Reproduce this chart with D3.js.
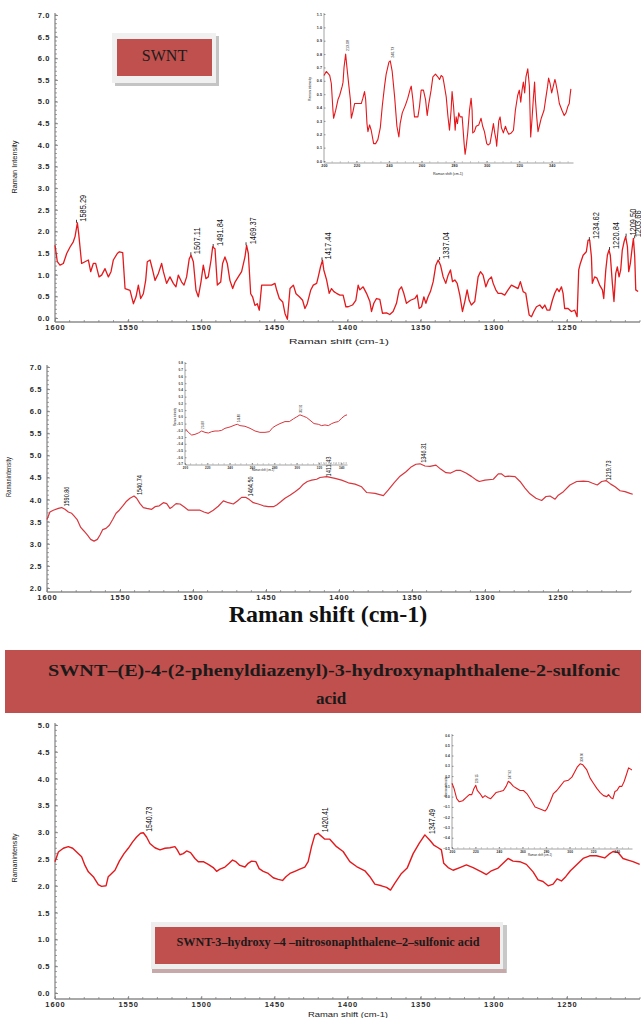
<!DOCTYPE html>
<html><head><meta charset="utf-8">
<script src="https://cdn.jsdelivr.net/npm/d3@7"></script>
<style>body{margin:0;background:#fff}svg{display:block}</style>
</head><body><svg id="c" width="641" height="1018"></svg>
<script>
// ---------------- DATA ----------------
const xTicksMain = [1600,1550,1500,1450,1400,1350,1300,1250];
const yTicksP1 = d3.range(0, 7.01, 0.5);
const yTicksP2 = d3.range(2, 7.01, 0.5);
const yTicksP3 = d3.range(0, 5.01, 0.5);
const insetXTicks = [200,220,240,260,280,300,320,340];

const swntMain = [[1600,1.68],[1598.4,1.30],[1596.6,1.22],[1594.3,1.26],[1592.0,1.49],[1589.7,1.64],[1587.5,1.76],[1586.3,1.88],[1584.7,2.20],[1583.8,1.95],[1581.8,1.26],[1579.5,1.30],[1577.2,1.34],[1575.6,1.07],[1573.8,1.26],[1572.2,1.26],[1569.9,0.95],[1568.1,0.99],[1565.8,1.14],[1563.5,0.95],[1561.7,1.07],[1560.1,1.34],[1557.4,1.49],[1556.0,1.53],[1553.7,1.51],[1552.1,0.68],[1548.7,0.64],[1546.4,0.33],[1544.6,0.49],[1543.0,0.76],[1541.4,0.45],[1539.6,0.56],[1538.0,0.87],[1536.9,1.30],[1535.0,1.34],[1533.2,1.10],[1531.6,0.87],[1529.3,1.03],[1527.1,1.26],[1525.9,1.07],[1523.7,0.80],[1521.4,0.95],[1519.1,0.80],[1517.3,0.72],[1515.7,0.99],[1513.4,0.83],[1511.8,0.76],[1510.0,0.95],[1508.2,1.37],[1507.0,1.45],[1505.4,1.30],[1503.6,0.64],[1502.0,0.49],[1500.2,0.83],[1498.6,1.22],[1496.8,0.91],[1495.2,0.95],[1493.3,1.34],[1492.2,1.64],[1490.6,1.60],[1489.0,0.76],[1486.7,0.83],[1485.4,1.26],[1483.8,1.41],[1482.2,1.26],[1480.4,0.87],[1478.5,0.68],[1476.9,0.83],[1474.7,0.95],[1472.4,1.07],[1470.1,1.41],[1469.0,1.68],[1467.8,1.49],[1466.2,0.56],[1464.9,0.49],[1463.3,0.29],[1461.7,0.33],[1460.3,0.18],[1458.7,0.76],[1455.3,0.76],[1451.9,0.76],[1449.6,0.80],[1448.4,0.64],[1446.6,0.45],[1444.3,0.37],[1442.7,0.10],[1441.1,-0.03],[1439.3,0.68],[1437.0,0.76],[1435.2,0.56],[1432.9,0.49],[1430.7,0.41],[1429.1,0.22],[1427.5,0.33],[1425.2,0.64],[1423.4,0.76],[1421.1,0.80],[1420.0,0.95],[1418.4,1.19],[1417.1,1.33],[1416.2,1.11],[1414.3,0.88],[1412.5,0.57],[1410.9,0.68],[1409.3,0.61],[1407.5,0.57],[1405.2,0.53],[1403.0,0.53],[1401.1,0.26],[1399.5,0.26],[1396.6,0.30],[1394.3,0.41],[1392.7,0.76],[1391.6,0.65],[1389.3,0.72],[1387.0,0.57],[1384.7,0.38],[1383.6,0.15],[1382.0,0.34],[1380.2,0.45],[1377.9,0.43],[1376.1,0.11],[1373.3,0.12],[1371.1,0.08],[1368.8,0.15],[1366.5,0.34],[1364.7,0.65],[1363.1,0.72],[1361.5,0.57],[1359.7,0.34],[1356.9,0.41],[1354.0,0.45],[1352.4,0.53],[1351.0,0.22],[1349.4,0.26],[1347.8,0.49],[1346.4,0.34],[1344.9,0.49],[1343.3,0.61],[1341.4,0.84],[1339.6,1.22],[1338.0,1.34],[1336.4,1.22],[1334.6,0.95],[1332.8,0.80],[1331.2,0.99],[1329.6,1.11],[1328.2,0.84],[1326.6,0.88],[1325.0,0.80],[1323.2,0.53],[1321.4,0.15],[1319.8,0.38],[1318.2,0.65],[1316.8,0.41],[1315.3,0.30],[1313.0,0.38],[1310.7,0.95],[1309.1,1.07],[1307.3,0.99],[1305.4,0.72],[1303.6,0.88],[1301.6,0.95],[1300.4,0.80],[1298.6,0.65],[1297.0,0.57],[1294.7,0.57],[1292.5,0.53],[1290.2,0.65],[1287.9,0.76],[1285.6,0.72],[1283.4,0.68],[1281.8,0.84],[1279.9,0.61],[1278.1,0.57],[1275.8,0.07],[1274.2,0.03],[1272.6,0.15],[1270.8,0.26],[1268.5,0.30],[1266.7,0.22],[1265.1,0.30],[1263.5,0.18],[1261.7,0.18],[1259.9,0.41],[1258.3,0.57],[1256.7,0.68],[1255.3,0.61],[1253.7,0.72],[1252.6,0.57],[1251.5,0.22],[1249.2,0.22],[1246.9,0.15],[1244.6,0.18],[1243.0,0.03],[1241.9,1.11],[1240.8,1.26],[1238.9,1.45],[1236.7,1.53],[1235.5,1.80],[1234.4,1.80],[1233.2,1.41],[1232.6,0.80],[1231.0,0.95],[1229.4,0.92],[1227.6,0.76],[1225.7,0.65],[1224.8,0.45],[1223.4,1.11],[1222.3,1.45],[1221.2,1.57],[1220.3,1.45],[1218.9,0.80],[1217.8,0.38],[1216.6,1.03],[1215.5,1.18],[1214.3,0.95],[1213.2,1.11],[1212.1,1.57],[1210.9,1.76],[1209.8,1.88],[1208.6,1.65],[1207.7,1.07],[1206.6,1.26],[1205.4,1.61],[1204.5,1.84],[1203.6,1.41],[1202.9,0.65],[1201.3,0.61]];
const swntPeaks = ["1585.29","1507.11","1491.84","1469.37","1417.44","1337.04","1234.62","1220.84","1209.50","1203.66"];

const swntInset = [[200.0,0.64],[201.4,0.67],[203.5,0.64],[204.5,0.58],[205.5,0.38],[205.9,0.32],[207.2,0.38],[208.6,0.46],[209.6,0.49],[211.2,0.56],[211.7,0.59],[212.3,0.70],[213.3,0.80],[214.1,0.70],[215.3,0.56],[216.2,0.46],[216.8,0.32],[217.8,0.37],[218.8,0.43],[220.9,0.43],[222.9,0.43],[223.9,0.47],[224.9,0.52],[225.6,0.46],[226.4,0.28],[227.0,0.22],[228.0,0.27],[229.0,0.23],[230.5,0.13],[231.7,0.13],[233.1,0.16],[234.6,0.25],[235.8,0.41],[237.2,0.56],[238.2,0.65],[239.9,0.74],[240.7,0.75],[241.9,0.67],[243.4,0.48],[244.8,0.26],[246.0,0.18],[246.8,0.28],[248.1,0.36],[250.1,0.42],[251.5,0.47],[253.0,0.54],[253.6,0.56],[254.6,0.46],[255.6,0.33],[257.7,0.33],[258.7,0.41],[259.7,0.53],[261.1,0.53],[262.4,0.46],[263.4,0.34],[264.4,0.43],[265.8,0.53],[266.9,0.63],[268.5,0.65],[269.9,0.63],[271.0,0.61],[272.0,0.64],[273.0,0.63],[273.6,0.59],[275.1,0.48],[276.1,0.34],[277.1,0.23],[278.1,0.38],[278.7,0.52],[279.6,0.41],[280.6,0.23],[281.2,0.33],[282.0,0.28],[282.8,0.36],[283.6,0.33],[284.9,0.33],[286.1,0.13],[286.7,0.05],[287.3,0.10],[288.3,0.21],[289.4,0.38],[290.4,0.47],[291.0,0.38],[291.4,0.21],[292.4,0.22],[293.5,0.26],[295.1,0.27],[296.5,0.32],[297.5,0.26],[298.6,0.22],[300.0,0.13],[300.8,0.12],[302.0,0.13],[303.3,0.22],[304.1,0.28],[304.9,0.21],[305.7,0.16],[306.1,0.11],[306.5,0.17],[307.4,0.30],[308.2,0.33],[309.0,0.25],[310.2,0.21],[311.5,0.26],[312.3,0.23],[313.5,0.20],[315.1,0.21],[316.4,0.23],[317.6,0.38],[319.0,0.49],[320.0,0.53],[320.9,0.44],[321.7,0.53],[322.5,0.59],[323.3,0.51],[324.1,0.63],[325.2,0.69],[326.2,0.56],[327.0,0.18],[327.8,0.31],[328.6,0.46],[329.4,0.59],[329.9,0.46],[330.7,0.33],[331.5,0.22],[332.3,0.26],[333.5,0.32],[335.2,0.38],[336.4,0.48],[337.4,0.56],[338.0,0.62],[338.9,0.58],[339.9,0.51],[340.9,0.56],[341.9,0.61],[342.5,0.58],[343.6,0.51],[344.6,0.43],[346.2,0.38],[347.6,0.34],[348.7,0.36],[349.9,0.41],[350.7,0.43],[351.1,0.48],[351.7,0.54]];
const swntInsetPeaks = ["213.08","240.73"];
const swntInsetYTicks = d3.range(0, 1.101, 0.1);

const azoMain = [[1600,3.55],[1598,3.72],[1595.7,3.76],[1592.2,3.80],[1590,3.82],[1587.7,3.78],[1585.4,3.72],[1583.1,3.69],[1581.5,3.63],[1579.2,3.54],[1576.9,3.37],[1574.7,3.29],[1572.4,3.20],[1570.1,3.10],[1567.8,3.06],[1565.5,3.10],[1563.7,3.20],[1561.9,3.32],[1559.6,3.35],[1557.3,3.42],[1555.0,3.55],[1552.7,3.69],[1550.5,3.76],[1548.2,3.85],[1545.9,3.95],[1543.2,4.03],[1540.4,4.08],[1538.6,4.03],[1536.3,3.91],[1534.0,3.82],[1531.7,3.80],[1528.3,3.78],[1526.0,3.84],[1523.1,3.86],[1520.3,3.93],[1518.0,3.91],[1515.8,3.80],[1514.0,3.84],[1511.6,3.91],[1508.9,3.90],[1506.2,3.84],[1503.2,3.76],[1499.8,3.76],[1495.2,3.76],[1492.5,3.72],[1489.5,3.69],[1486.1,3.76],[1482.7,3.85],[1479.2,3.97],[1475.8,3.93],[1472.4,3.90],[1469.6,3.97],[1466.7,4.05],[1463.7,4.05],[1461.4,4.00],[1458.7,3.93],[1455.3,3.90],[1451.8,3.86],[1448.4,3.84],[1444.9,3.84],[1442.7,3.88],[1439.9,3.95],[1437.0,4.03],[1433.6,4.10],[1430.1,4.18],[1427.2,4.25],[1424.4,4.35],[1421.7,4.41],[1418.7,4.44],[1415.3,4.46],[1413,4.50],[1408.4,4.52],[1402.7,4.48],[1398.2,4.44],[1393.6,4.38],[1389.0,4.35],[1384.5,4.29],[1381.0,4.16],[1375.3,4.14],[1369.6,4.09],[1366.2,4.22],[1362.3,4.38],[1358.2,4.53],[1354.1,4.63],[1350.9,4.73],[1347.3,4.80],[1344.5,4.81],[1341.1,4.76],[1337.7,4.75],[1333.6,4.78],[1330.4,4.69],[1326.7,4.61],[1323.5,4.60],[1319.9,4.66],[1316.7,4.66],[1313.0,4.60],[1309.1,4.52],[1305.7,4.44],[1303.9,4.41],[1300.0,4.44],[1294.3,4.46],[1290.9,4.58],[1288.6,4.58],[1286.3,4.52],[1284.0,4.53],[1279.4,4.52],[1276.0,4.41],[1272.6,4.26],[1269.2,4.13],[1265.1,4.03],[1261.2,3.98],[1258.2,4.07],[1255.5,4.08],[1252.0,4.01],[1249.8,4.10],[1246.3,4.18],[1241.8,4.33],[1237.2,4.41],[1232.6,4.42],[1229.2,4.41],[1226.3,4.37],[1223.1,4.33],[1220.1,4.41],[1217.1,4.43],[1213.9,4.35],[1210.9,4.29],[1207.5,4.20],[1204.1,4.18],[1200.7,4.14],[1198.8,4.12]];
const azoPeaks = ["1590.86","1540.74","1464.50","1411.43","1346.31","1219.73"];

const azoInset = [[200.6,-0.18],[203.0,-0.23],[206.0,-0.27],[208.9,-0.26],[211.9,-0.24],[214.9,-0.21],[217.9,-0.23],[220.9,-0.24],[223.9,-0.22],[226.9,-0.21],[229.8,-0.21],[232.8,-0.20],[235.8,-0.17],[240.3,-0.15],[244.8,-0.12],[246.8,-0.11],[249.2,-0.13],[253.7,-0.14],[258.2,-0.17],[262.7,-0.21],[267.1,-0.23],[271.6,-0.23],[275.5,-0.22],[278.5,-0.16],[281.4,-0.13],[285.0,-0.10],[289.5,-0.07],[293.4,-0.07],[297.0,-0.03],[300.0,0.00],[302.9,0.03],[305.9,0.01],[308.9,-0.01],[311.9,-0.05],[315.5,-0.10],[319.3,-0.11],[322.3,-0.13],[325.3,-0.12],[328.3,-0.13],[331.3,-0.10],[334.3,-0.08],[337.2,-0.07],[340.2,-0.02],[343.2,0.02],[345.0,0.03]];
const azoInsetPeaks = ["214.87","246.80","302.91"];
const azoInsetYTicks = d3.range(-0.7, 0.801, 0.1);

const nitroMain = [[1600,2.45],[1597.7,2.63],[1594.3,2.70],[1590.9,2.73],[1587.9,2.70],[1585.2,2.63],[1581.8,2.54],[1579.5,2.38],[1577.2,2.26],[1573.8,2.17],[1570.4,2.02],[1568.1,1.99],[1565.1,2.00],[1563.6,2.17],[1561.3,2.23],[1559.0,2.29],[1556.0,2.46],[1552.8,2.60],[1549.9,2.70],[1546.9,2.82],[1544.2,2.91],[1541.5,2.98],[1539.6,2.99],[1537.4,2.91],[1535.1,2.79],[1531.7,2.71],[1528.2,2.67],[1524.8,2.70],[1521.4,2.71],[1518.0,2.73],[1516.4,2.67],[1514.6,2.58],[1512.3,2.60],[1510.0,2.65],[1507.3,2.62],[1504.3,2.51],[1502.0,2.45],[1498.6,2.45],[1495.2,2.40],[1491.8,2.34],[1489.5,2.27],[1487.2,2.31],[1483.8,2.35],[1480.9,2.42],[1478.6,2.48],[1476.3,2.45],[1473.6,2.38],[1470.1,2.35],[1467.9,2.42],[1465.6,2.46],[1462.6,2.45],[1460.4,2.32],[1457.6,2.27],[1454.2,2.23],[1450.8,2.15],[1447.4,2.12],[1444.4,2.10],[1442.1,2.17],[1439.4,2.23],[1436.0,2.27],[1432.6,2.31],[1429.2,2.35],[1426.9,2.45],[1424.6,2.73],[1422.3,2.95],[1420.0,2.98],[1418.9,2.95],[1415.5,2.87],[1412.1,2.87],[1407.5,2.73],[1403.0,2.64],[1398.4,2.45],[1393.8,2.36],[1388.1,2.28],[1384.7,2.17],[1381.3,2.03],[1376.8,2.00],[1373.3,1.97],[1370.6,1.92],[1367.6,2.05],[1363.1,2.23],[1359.2,2.33],[1355.1,2.60],[1351.0,2.79],[1347.1,2.95],[1343.7,2.85],[1341.0,2.76],[1338.0,2.71],[1335.8,2.67],[1334.2,2.42],[1331.2,2.34],[1327.8,2.29],[1323.2,2.34],[1318.7,2.39],[1314.1,2.34],[1308.4,2.26],[1305.0,2.21],[1301.6,2.28],[1297.0,2.33],[1293.6,2.42],[1290.2,2.51],[1286.8,2.46],[1282.2,2.45],[1277.7,2.40],[1273.1,2.26],[1269.7,2.11],[1266.3,2.08],[1262.8,2.00],[1259.4,2.03],[1256.7,2.13],[1253.7,2.09],[1250.8,2.17],[1247.6,2.28],[1243.5,2.39],[1238.9,2.51],[1234.4,2.56],[1229.8,2.56],[1224.1,2.52],[1221.2,2.59],[1218.4,2.64],[1215.0,2.62],[1211.6,2.51],[1208.2,2.48],[1204.8,2.45],[1200.2,2.40]];
const nitroPeaks = ["1540.73","1420.41","1347.49"];

const nitroInset = [[200.0,0.13],[201.7,0.08],[204.0,-0.02],[206.2,-0.05],[209.1,-0.04],[211.9,-0.01],[214.7,0.02],[216.8,0.02],[218.7,0.08],[220.2,0.11],[221.5,0.06],[223.8,0.03],[226.1,-0.01],[228.1,0.01],[230.9,-0.01],[232.9,-0.02],[235.2,0.01],[237.4,0.04],[240.8,0.05],[243.7,0.06],[246.0,0.10],[247.9,0.15],[250.0,0.13],[252.2,0.10],[255.1,0.08],[257.9,0.06],[260.7,0.06],[263.6,0.03],[267.0,-0.03],[270.6,-0.10],[274.9,-0.12],[279.1,-0.14],[280.6,-0.12],[283.4,-0.05],[286.2,0.03],[289.1,0.06],[291.9,0.10],[295.3,0.15],[299.0,0.16],[301.9,0.19],[303.8,0.23],[306.6,0.29],[308.9,0.32],[311.2,0.31],[314.6,0.26],[317.4,0.18],[320.2,0.13],[323.1,0.08],[326.0,0.04],[328.8,0.01],[331.6,0.00],[333.0,0.02],[335.1,-0.01],[336.8,-0.02],[338.5,0.05],[340.2,0.06],[342.4,0.10],[344.4,0.10],[346.4,0.15],[348.7,0.23],[350.1,0.28],[351.5,0.27],[352.9,0.26]];
const nitroInsetPeaks = ["220.15","247.92","308.90"];
const nitroInsetYTicks = d3.range(-0.5, 0.601, 0.1);

const titleSWNT = "SWNT";
const titleAzo = ["SWNT–(E)-4-(2-phenyldiazenyl)-3-hydroxynaphthalene-2-sulfonic", "acid"];
const titleNitro = "SWNT-3–hydroxy –4 –nitrosonaphthalene–2–sulfonic acid";

// ---------------- DRAWING ----------------
const svg = d3.select('#c');
const SANS = 'Liberation Sans, Arial, sans-serif';
const SERIF = 'Liberation Serif, Times New Roman, serif';
const RED = '#e3191c';
const W = 641;

function styleAxis(sel, fs, ls){
  sel.select('.domain').attr('stroke','#8c8c8c').attr('stroke-width',1.3);
  sel.selectAll('.tick line').attr('stroke','#777').attr('stroke-width',0.8);
  sel.selectAll('.tick text').attr('font-family',SANS).attr('font-size',fs)
     .attr('fill','#2a2a2a').attr('letter-spacing',ls).style('font-weight','bold');
}

function mainAxes(g, x, y, yTicks, axisY){
  const xa = d3.axisBottom(x).tickValues(xTicksMain).tickFormat(d3.format('d'))
    .tickSizeInner(-3).tickSizeOuter(0).tickPadding(3);
  const gx = g.append('g').attr('transform',`translate(0,${axisY})`).call(xa);
  gx.select('.domain').attr('d', `M${x.range()[0]},0H${x.range()[1]}`);
  styleAxis(gx, 7.5, 0.9);
  const minX = d3.range(1600, 1199, -10);
  g.append('g').selectAll('line').data(minX).join('line')
    .attr('x1',d=>x(d)).attr('x2',d=>x(d)).attr('y1',axisY).attr('y2',axisY-2)
    .attr('stroke','#777').attr('stroke-width',0.7);
  const ya = d3.axisLeft(y).tickValues(yTicks).tickFormat(d3.format('.1f'))
    .tickSizeInner(-3).tickSizeOuter(0).tickPadding(5);
  const gy = g.append('g').attr('transform',`translate(${x.range()[0]},0)`).call(ya);
  gy.select('.domain').attr('d', `M0,${axisY}V${y.range()[1]-2}`);
  styleAxis(gy, 7.5, 0.6);
  const [y0,y1] = y.domain();
  const minY = d3.range(y0, y1+0.001, 0.1);
  g.append('g').selectAll('line').data(minY).join('line')
    .attr('x1',x.range()[0]).attr('x2',x.range()[0]+2).attr('y1',d=>y(d)).attr('y2',d=>y(d))
    .attr('stroke','#777').attr('stroke-width',0.7);
}

function insetAxes(g, x, y, yTicks, axisY, fs){
  const xa = d3.axisBottom(x).tickValues(insetXTicks).tickFormat(d3.format('d'))
    .tickSizeInner(-1.5).tickSizeOuter(0).tickPadding(2);
  const gx = g.append('g').attr('transform',`translate(0,${axisY})`).call(xa);
  styleAxis(gx, fs, 0.2);
  gx.select('.domain').attr('stroke-width',0.8);
  g.append('g').selectAll('line').data(d3.range(200, x.domain()[1], 5)).join('line')
    .attr('x1',d=>x(d)).attr('x2',d=>x(d)).attr('y1',axisY).attr('y2',axisY-1.2)
    .attr('stroke','#777').attr('stroke-width',0.5);
  const ya = d3.axisLeft(y).tickValues(yTicks).tickFormat(d3.format('.1f'))
    .tickSizeInner(-1.5).tickSizeOuter(0).tickPadding(2);
  const gy = g.append('g').attr('transform',`translate(${x.range()[0]},0)`).call(ya);
  gy.select('.domain').attr('d', `M0,${axisY}V${y.range()[1]-1}`).attr('stroke-width',0.8);
  styleAxis(gy, fs, 0.1);
  gy.select('.domain').attr('stroke-width',0.8);
}

function curve(g, data, x, y, color, w){
  g.append('path').datum(data)
    .attr('d', d3.line().x(d=>x(d[0])).y(d=>y(d[1])))
    .attr('fill','none').attr('stroke',color).attr('stroke-width',w).attr('stroke-linejoin','round');
}

function peakLabels(g, data, x, y, labels, o){
  labels.forEach(lbl => {
    const v = parseFloat(lbl);
    const pts = data.filter(d => Math.abs(d[0]-v) <= o.win);
    const top = d3.max(pts, d=>d[1]);
    const px = x(v), py = y(top);
    if (o.mark) g.append('line').attr('x1',px).attr('x2',px).attr('y1',py-o.mark).attr('y2',py)
      .attr('stroke','#111').attr('stroke-width',0.8);
    const tx = Math.min(px + o.dx, W - 0.5);
    g.append('text').attr('transform',`translate(${tx},${py-o.dy}) rotate(-90)`)
      .attr('font-family',SANS).attr('font-size',o.fs).attr('fill','#111')
      .attr('textLength',o.len).attr('lengthAdjust','spacingAndGlyphs').text(lbl);
  });
}

function vLabel(g, txt, cx, cy, fs, len){
  g.append('text').attr('transform',`translate(${cx},${cy}) rotate(-90)`)
    .attr('text-anchor','middle').attr('font-family',SANS).attr('font-size',fs).attr('fill','#222')
    .attr('textLength',len).attr('lengthAdjust','spacingAndGlyphs').text(txt);
}
function hLabel(g, txt, cx, cy, fs, len){
  const t = g.append('text').attr('x',cx).attr('y',cy).attr('text-anchor','middle')
    .attr('font-family',SANS).attr('font-size',fs).attr('fill','#222').text(txt);
  if (len) t.attr('textLength',len).attr('lengthAdjust','spacingAndGlyphs');
}

function boxedTitle(g, frame, red){
  g.append('rect').attr('x',frame[0]+3).attr('y',frame[1]+3).attr('width',frame[2]).attr('height',frame[3]).attr('fill','#c4c4c4');
  g.append('rect').attr('x',frame[0]).attr('y',frame[1]).attr('width',frame[2]).attr('height',frame[3]).attr('fill','#f0f0f0');
  g.append('rect').attr('x',red[0]).attr('y',red[1]).attr('width',red[2]).attr('height',red[3]).attr('fill','#c0504d');
}

// ===== Panel 1: SWNT =====
const g1 = svg.append('g');
const x1 = d3.scaleLinear().domain([1600,1200]).range([55,640]);
const y1 = d3.scaleLinear().domain([0,7]).range([318,15]);
mainAxes(g1, x1, y1, yTicksP1, 322);
curve(g1, swntMain, x1, y1, RED, 1.3);
peakLabels(g1, swntMain, x1, y1, swntPeaks, {win:2.5, dx:9.5, dy:1, fs:9, len:27, mark:3});
vLabel(g1, 'Raman Intensity', 17, 167, 7.5, 53);
hLabel(g1, 'Raman shift (cm-1)', 339, 344, 7.5, 100);
boxedTitle(g1, [112,33,104,50], [117,39,95,37]);
g1.append('text').attr('x',164.5).attr('y',61).attr('text-anchor','middle')
  .attr('font-family',SERIF).attr('font-size',16).attr('fill','#1c1c1c').text(titleSWNT);

// inset 1
const gi1 = svg.append('g');
const xi1 = d3.scaleLinear().domain([200,353]).range([324,573]);
const yi1 = d3.scaleLinear().domain([0,1.1]).range([161,14]);
insetAxes(gi1, xi1, yi1, swntInsetYTicks, 162.5, 3.6);
curve(gi1, swntInset, xi1, yi1, '#e5171b', 1.1);
peakLabels(gi1, swntInset, xi1, yi1, swntInsetPeaks, {win:1.5, dx:3.5, dy:3, fs:4, len:11});
vLabel(gi1, 'Raman intensity', 311, 89, 3.6, 24);
hLabel(gi1, 'Raman shift (cm-1)', 448, 175, 3.6, 30);

// ===== Panel 2 =====
const g2 = svg.append('g');
const x2 = d3.scaleLinear().domain([1600,1200]).range([47,631]);
const y2 = d3.scaleLinear().domain([2,7]).range([588,367]);
mainAxes(g2, x2, y2, yTicksP2, 592);
curve(g2, azoMain, x2, y2, '#d8363d', 1.2);
peakLabels(g2, azoMain, x2, y2, azoPeaks, {win:2.5, dx:8.5, dy:1, fs:7, len:20});
g2.append('line').attr('x1',318).attr('x2',347).attr('y1',463).attr('y2',463)
  .attr('stroke','#777').attr('stroke-width',0.6).attr('stroke-dasharray','1.5,1');
vLabel(g2, 'Ramanintensity', 11, 477, 6.5, 40);
g2.append('text').attr('x',328).attr('y',622).attr('text-anchor','middle')
  .attr('font-family',SERIF).attr('font-weight','bold').attr('font-size',24).attr('fill','#111')
  .text('Raman shift (cm-1)');

// inset 2
const gi2 = svg.append('g');
const xi2 = d3.scaleLinear().domain([200,345]).range([185,347]);
const yi2 = d3.scaleLinear().domain([-0.7,0.8]).range([464,363]);
insetAxes(gi2, xi2, yi2, azoInsetYTicks, 464.5, 3);
curve(gi2, azoInset, xi2, yi2, '#d8363d', 1.0);
peakLabels(gi2, azoInset, xi2, yi2, azoInsetPeaks, {win:2, dx:2.5, dy:2, fs:3.2, len:8});
vLabel(gi2, 'Raman intensity', 176, 417, 3, 18);
hLabel(gi2, 'Raman shift (cm-1)', 263, 471, 3, 22);

// ===== Panel 3 title bar =====
const gt = svg.append('g');
gt.append('rect').attr('x',5).attr('y',650).attr('width',636).attr('height',63).attr('fill','#c0504d');
gt.append('text').attr('x',334).attr('y',676).attr('text-anchor','middle')
  .attr('font-family',SERIF).attr('font-weight','bold').attr('font-size',17).attr('fill','#1a1a1a')
  .attr('textLength',572).attr('lengthAdjust','spacingAndGlyphs').text(titleAzo[0]);
gt.append('text').attr('x',331).attr('y',704).attr('text-anchor','middle')
  .attr('font-family',SERIF).attr('font-weight','bold').attr('font-size',17).attr('fill','#1a1a1a')
  .text(titleAzo[1]);

// ===== Panel 3 =====
const g3 = svg.append('g');
const x3 = d3.scaleLinear().domain([1600,1200]).range([55,640]);
const y3 = d3.scaleLinear().domain([0,5]).range([993,725]);
mainAxes(g3, x3, y3, yTicksP3, 999);
curve(g3, nitroMain, x3, y3, RED, 1.4);
peakLabels(g3, nitroMain, x3, y3, nitroPeaks, {win:2.5, dx:10.5, dy:1, fs:9, len:25});
vLabel(g3, 'Ramanintensity', 17, 858, 7.5, 49);
hLabel(g3, 'Raman shift (cm-1)', 348, 1017, 7.5, 80);

// legend box
const gl = svg.append('g');
gl.append('rect').attr('x',153).attr('y',925).attr('width',354).attr('height',48).attr('fill','#c8c8c8');
gl.append('rect').attr('x',151).attr('y',922).attr('width',352).attr('height',47).attr('fill','#eeeeee');
gl.append('rect').attr('x',152).attr('y',969).attr('width',354).attr('height',4).attr('fill','#c7a9a9');
gl.append('rect').attr('x',155).attr('y',927).attr('width',345).attr('height',37).attr('fill','#c0504d');
gl.append('text').attr('x',328).attr('y',946).attr('text-anchor','middle')
  .attr('font-family',SERIF).attr('font-size',13.5).attr('fill','#1a1a1a').style('font-weight','600')
  .attr('textLength',303).attr('lengthAdjust','spacingAndGlyphs').text(titleNitro);

// inset 3
const gi3 = svg.append('g');
const xi3 = d3.scaleLinear().domain([200,353]).range([452,632]);
const yi3 = d3.scaleLinear().domain([-0.5,0.6]).range([848,735]);
insetAxes(gi3, xi3, yi3, nitroInsetYTicks, 848.5, 3.2);
curve(gi3, nitroInset, xi3, yi3, RED, 1.1);
peakLabels(gi3, nitroInset, xi3, yi3, nitroInsetPeaks, {win:1.5, dx:2.5, dy:2, fs:3.2, len:9});
vLabel(gi3, 'Raman intensity', 447, 787, 3.2, 20);
hLabel(gi3, 'Raman shift (cm-1)', 540, 856, 3.2, 24);
</script></body></html>
